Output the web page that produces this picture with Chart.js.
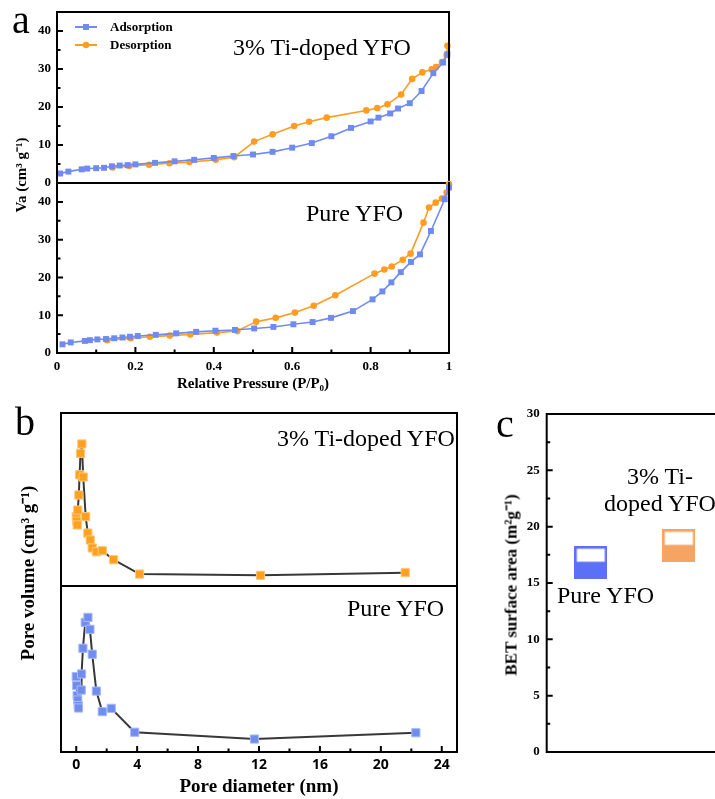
<!DOCTYPE html>
<html>
<head>
<meta charset="utf-8">
<title>YFO BET</title>
<script src="https://cdn.jsdelivr.net/npm/chart.js@4.4.1/dist/chart.umd.min.js"></script>
<style>
  body { margin: 0; background: #fff; }
  #page { position: relative; width: 715px; height: 799px; overflow: hidden; }
  .box { position: absolute; }
  .txt { position: absolute; font-family: 'Liberation Serif', 'Times New Roman', serif; color: #000; white-space: nowrap; line-height: 1; }
  .rot { font-weight: bold; transform: translate(-50%, -50%) rotate(-90deg); }
</style>
</head>
<body>
<div id="page">
  <div class="box" style="left:0;top:0;width:460px;height:195px"><canvas id="chartA1"></canvas></div>
  <div class="box" style="left:0;top:180px;width:460px;height:215px"><canvas id="chartA2"></canvas></div>
  <div class="box" style="left:0;top:400px;width:470px;height:190px"><canvas id="chartB1"></canvas></div>
  <div class="box" style="left:0;top:583px;width:470px;height:217px"><canvas id="chartB2"></canvas></div>
  <div class="box" style="left:480px;top:400px;width:235px;height:400px"><canvas id="chartC"></canvas></div>

  <div class="txt" style="left:12px;top:0px;font-size:40px">a</div>
  <div class="txt" style="left:15px;top:402px;font-size:40px">b</div>
  <div class="txt" style="left:496px;top:404px;font-size:40px">c</div>

  <div class="txt" style="left:233px;top:35px;font-size:24px">3% Ti-doped YFO</div>
  <div class="txt" style="left:306px;top:201px;font-size:24px">Pure YFO</div>
  <div class="txt" style="left:277px;top:426px;font-size:24px">3% Ti-doped YFO</div>
  <div class="txt" style="left:347px;top:596px;font-size:24px">Pure YFO</div>
  <div class="txt" style="left:660px;top:463px;font-size:24px;transform:translateX(-50%);text-align:center;line-height:27px">3% Ti-<br>doped YFO</div>
  <div class="txt" style="left:557px;top:583px;font-size:24px">Pure YFO</div>

  <div class="txt rot" style="left:21px;top:175px;font-size:15px">Va (cm³ g⁻¹)</div>
  <div class="txt rot" style="left:27px;top:573px;font-size:19px">Pore volume (cm³ g⁻¹)</div>
  <div class="txt rot" style="left:511px;top:585px;font-size:17px">BET surface area (m²g⁻¹)</div>
</div>

<script>
// ---- panel a: N2 isotherms (P/P0 vs volume) ----
const dopedAdsP = [0.008, 0.029, 0.063, 0.077, 0.10, 0.12, 0.14, 0.16, 0.18, 0.20, 0.25, 0.30, 0.35, 0.40, 0.45, 0.50, 0.55, 0.60, 0.65, 0.70, 0.75, 0.80, 0.82, 0.85, 0.87, 0.90, 0.93, 0.96, 0.985, 0.996];
const dopedAdsV = [2.5, 3.0, 3.6, 3.8, 3.9, 4.0, 4.4, 4.6, 4.7, 4.9, 5.3, 5.7, 6.1, 6.6, 7.1, 7.5, 8.2, 9.3, 10.5, 12.3, 14.5, 16.2, 17.2, 18.3, 19.6, 21.0, 24.2, 28.9, 31.7, 33.9];
const dopedDesP = [0.142, 0.184, 0.235, 0.287, 0.338, 0.405, 0.452, 0.503, 0.55, 0.605, 0.643, 0.688, 0.789, 0.817, 0.843, 0.878, 0.906, 0.932, 0.956, 0.967, 0.982, 0.994, 0.996];
const dopedDesV = [4.1, 4.5, 4.8, 5.2, 5.5, 6.1, 6.8, 10.9, 12.8, 15.0, 16.1, 17.2, 19.1, 19.7, 20.7, 23.3, 27.4, 29.1, 29.9, 30.5, 31.8, 33.7, 36.1];

const pureAdsP = [0.014, 0.035, 0.071, 0.084, 0.103, 0.125, 0.146, 0.167, 0.186, 0.206, 0.252, 0.304, 0.355, 0.404, 0.454, 0.503, 0.552, 0.603, 0.652, 0.699, 0.755, 0.805, 0.83, 0.853, 0.877, 0.903, 0.926, 0.954, 0.989, 1.0];
const pureAdsV = [2.3, 2.8, 3.2, 3.4, 3.6, 3.7, 3.9, 4.1, 4.3, 4.5, 4.8, 5.2, 5.6, 5.9, 6.1, 6.5, 6.9, 7.6, 8.2, 9.3, 11.1, 14.2, 16.3, 18.7, 21.4, 24.1, 26.1, 32.3, 40.7, 43.8];
const pureDesP = [0.128, 0.188, 0.237, 0.288, 0.34, 0.408, 0.46, 0.508, 0.558, 0.607, 0.655, 0.71, 0.81, 0.835, 0.854, 0.882, 0.902, 0.935, 0.949, 0.966, 0.982, 0.994, 1.0];
const pureDesV = [3.4, 3.9, 4.3, 4.6, 4.9, 5.4, 5.8, 8.3, 9.3, 10.7, 12.5, 15.3, 21.0, 22.1, 22.9, 24.7, 26.3, 34.5, 38.5, 39.8, 40.9, 42.5, 44.7];

// ---- panel b: pore size distribution (arbitrary units) ----
const dopedPoreD = [0.0, 0.03, 0.07, 0.10, 0.17, 0.22, 0.28, 0.37, 0.46, 0.62, 0.76, 0.92, 1.05, 1.32, 1.71, 2.45, 4.16, 12.1, 21.6];
const dopedPoreV = [40.1, 37.5, 35.3, 43.9, 52.6, 64.3, 76.7, 82.1, 63.0, 40.1, 30.6, 26.6, 22.0, 19.8, 20.4, 15.2, 6.9, 6.2, 7.7];
const purePoreD = [0.0, 0.03, 0.06, 0.10, 0.13, 0.15, 0.33, 0.35, 0.44, 0.59, 0.77, 0.90, 1.05, 1.32, 1.71, 2.3, 3.84, 11.7, 22.3];
const purePoreV = [45.4, 40.0, 34.0, 31.3, 28.0, 26.5, 37.3, 47.0, 62.5, 78.1, 81.1, 73.9, 58.9, 36.7, 24.3, 26.3, 11.9, 7.8, 11.6];

// ---- panel c: BET surface area ----
const betSamples = ['Pure YFO', '3% Ti-doped YFO'];
const betValues = [16.8, 18.3];

// tick labels
const pressureTicks = [0, 0.2, 0.4, 0.6, 0.8, 1];
const vaTicks = [0, 10, 20, 30, 40];
const diameterTicks = [0, 4, 8, 12, 16, 20, 24];
const betTicks = [0, 5, 10, 15, 20, 25, 30];

const BLUE = '#6f8bf1';
const ORANGE = '#ff9d22';
const SERIF = "'Liberation Serif', 'Times New Roman', serif";

Chart.defaults.font.family = SERIF;
Chart.defaults.color = '#000';

const toXY = (xs, ys) => xs.map((x, i) => ({ x: x, y: ys[i] }));
const setTicks = list => scale => { scale.ticks = list.map(v => ({ value: v })); };
const fixWidth = w => s => { s.width = w; s.paddingTop = 0; s.paddingBottom = 0; };
const fixHeight = h => s => { s.height = h; s.paddingLeft = 0; s.paddingRight = 0; };

// box around the plot + inward major/minor ticks
const framePlugin = {
  id: 'frame',
  afterDraw(chart, args, opts) {
    const { ctx, chartArea: a } = chart;
    const sides = opts.sides || 'tlbr';
    ctx.save();
    ctx.strokeStyle = '#000';
    ctx.lineWidth = 2;
    ctx.lineCap = 'square';
    ctx.beginPath();
    if (sides.includes('t')) { ctx.moveTo(a.left, a.top); ctx.lineTo(a.right, a.top); }
    if (sides.includes('b')) { ctx.moveTo(a.left, a.bottom); ctx.lineTo(a.right, a.bottom); }
    if (sides.includes('l')) { ctx.moveTo(a.left, a.top); ctx.lineTo(a.left, a.bottom); }
    if (sides.includes('r')) { ctx.moveTo(a.right, a.top); ctx.lineTo(a.right, a.bottom); }
    ctx.stroke();

    ctx.lineCap = 'butt';
    ctx.beginPath();
    Object.values(chart.scales).forEach(sc => {
      if (!sc.options.display || !sc.ticks.length) return;
      const vals = sc.ticks.map(t => t.value);
      const minor = [];
      for (let i = 1; i < vals.length; i++) minor.push((vals[i - 1] + vals[i]) / 2);
      const last = vals[vals.length - 1] + (vals[1] - vals[0]) / 2;
      if (last < sc.max) minor.push(last);
      const mark = (v, len) => {
        const p = sc.getPixelForValue(v);
        if (sc.isHorizontal()) { ctx.moveTo(p, a.bottom); ctx.lineTo(p, a.bottom - len); }
        else { ctx.moveTo(a.left, p); ctx.lineTo(a.left + len, p); }
      };
      vals.forEach(v => mark(v, 6));
      minor.forEach(v => mark(v, 3.5));
    });
    ctx.stroke();
    ctx.restore();
  }
};

// small legend in the top-left of panel a
const isoLegend = {
  id: 'isoLegend',
  afterDraw(chart) {
    const { ctx } = chart;
    ctx.save();
    chart.data.datasets.forEach((ds, i) => {
      const y = 27 + i * 18;
      ctx.strokeStyle = ds.borderColor;
      ctx.lineWidth = 2;
      ctx.beginPath(); ctx.moveTo(75, y); ctx.lineTo(97, y); ctx.stroke();
      ctx.fillStyle = ds.borderColor;
      ctx.beginPath();
      if (ds.pointStyle === 'rect') ctx.rect(83, y - 3, 6, 6);
      else ctx.arc(86, y, 3.2, 0, Math.PI * 2);
      ctx.fill();
      ctx.fillStyle = '#000';
      ctx.font = 'bold 13px ' + SERIF;
      ctx.textBaseline = 'middle';
      ctx.fillText(ds.label, 110, y + 1);
    });
    ctx.restore();
  }
};

function isoSets(adsP, adsV, desP, desV) {
  return [{
    label: 'Adsorption',
    data: toXY(adsP, adsV),
    showLine: true,
    borderColor: BLUE,
    backgroundColor: BLUE,
    borderWidth: 1.6,
    pointStyle: 'rect',
    pointRadius: 4.2,
    pointBorderWidth: 0,
    clip: false
  }, {
    label: 'Desorption',
    data: toXY(desP, desV),
    showLine: true,
    borderColor: ORANGE,
    backgroundColor: ORANGE,
    borderWidth: 1.6,
    pointStyle: 'circle',
    pointRadius: 3.3,
    pointBorderWidth: 0,
    clip: false
  }];
}

const yTickFont = { weight: 'bold', size: 13, family: SERIF };
const vaAxis = {
  min: 0, max: 45,
  afterBuildTicks: setTicks(vaTicks),
  afterFit: fixWidth(57),
  grid: { display: false, drawTicks: false },
  border: { display: false },
  ticks: { padding: 6, font: yTickFont, color: '#000' }
};

const common = {
  animation: false,
  responsive: true,
  maintainAspectRatio: false
};

// a, top: doped
new Chart(document.getElementById('chartA1'), {
  type: 'scatter',
  data: { datasets: isoSets(dopedAdsP, dopedAdsV, dopedDesP, dopedDesV) },
  options: Object.assign({}, common, {
    layout: { autoPadding: false, padding: { top: 12, right: 11, bottom: 12, left: 0 } },
    plugins: { legend: { display: false }, tooltip: { enabled: false }, frame: { sides: 'tlbr' } },
    scales: {
      x: { type: 'linear', min: 0, max: 1, display: false },
      y: vaAxis
    }
  }),
  plugins: [framePlugin, isoLegend]
});

// a, bottom: pure
new Chart(document.getElementById('chartA2'), {
  type: 'scatter',
  data: { datasets: isoSets(pureAdsP, pureAdsV, pureDesP, pureDesV) },
  options: Object.assign({}, common, {
    layout: { autoPadding: false, padding: { top: 3, right: 11, bottom: 2, left: 0 } },
    plugins: { legend: { display: false }, tooltip: { enabled: false }, frame: { sides: 'lbr' } },
    scales: {
      x: {
        type: 'linear', min: 0, max: 1,
        afterBuildTicks: setTicks(pressureTicks),
        afterFit: fixHeight(40),
        grid: { display: false, drawTicks: false },
        border: { display: false },
        ticks: { padding: 6, font: yTickFont, color: '#000', callback: v => String(v) },
        title: { display: true, text: 'Relative Pressure (P/P₀)', font: { weight: 'bold', size: 15, family: SERIF }, padding: { top: 0, bottom: 0 } }
      },
      y: vaAxis
    }
  }),
  plugins: [framePlugin]
});

function poreSet(xs, ys, fill, edge) {
  return [{
    data: toXY(xs, ys),
    showLine: true,
    borderColor: '#383838',
    borderWidth: 2,
    pointStyle: 'rect',
    pointRadius: 5.8,
    pointBackgroundColor: fill,
    pointBorderColor: edge,
    pointBorderWidth: 1,
    clip: false
  }];
}

// b, top: doped
new Chart(document.getElementById('chartB1'), {
  type: 'scatter',
  data: { datasets: poreSet(dopedPoreD, dopedPoreV, '#ffa020', '#ffc878') },
  options: Object.assign({}, common, {
    layout: { autoPadding: false, padding: { top: 13, right: 13, bottom: 4, left: 61 } },
    plugins: { legend: { display: false }, tooltip: { enabled: false }, frame: { sides: 'tlbr' } },
    scales: {
      x: { type: 'linear', min: -1, max: 25, display: false },
      y: { min: 0, max: 100, display: false }
    }
  }),
  plugins: [framePlugin]
});

// b, bottom: pure
new Chart(document.getElementById('chartB2'), {
  type: 'scatter',
  data: { datasets: poreSet(purePoreD, purePoreV, '#6f8cf0', '#a9baf7') },
  options: Object.assign({}, common, {
    layout: { autoPadding: false, padding: { top: 3, right: 13, bottom: 2, left: 61 } },
    plugins: { legend: { display: false }, tooltip: { enabled: false }, frame: { sides: 'lbr' } },
    scales: {
      x: {
        type: 'linear', min: -1, max: 25,
        afterBuildTicks: setTicks(diameterTicks),
        afterFit: fixHeight(46),
        grid: { display: false, drawTicks: false },
        border: { display: false },
        ticks: { padding: 5, font: { weight: 'bold', size: 14, family: "'Open Sans', sans-serif" }, color: '#000' },
        title: { display: true, text: 'Pore diameter (nm)', font: { weight: 'bold', size: 19, family: SERIF }, padding: { top: 0, bottom: 0 } }
      },
      y: { min: 0, max: 100, display: false }
    }
  }),
  plugins: [framePlugin]
});

// c: half-filled square markers
function halfSquare(fill) {
  const c = document.createElement('canvas');
  c.width = 33; c.height = 33;
  const g = c.getContext('2d');
  g.fillStyle = fill;
  g.fillRect(0, 0, 33, 33);
  g.fillStyle = '#fff';
  g.fillRect(2.5, 2.5, 28, 13);
  return c;
}
const betMarkers = [halfSquare('#5b6ff7'), halfSquare('#f5a462')];

new Chart(document.getElementById('chartC'), {
  type: 'scatter',
  data: {
    datasets: [{
      label: 'BET surface area',
      data: betValues.map((v, i) => ({ x: i + 1, y: v, name: betSamples[i] })),
      pointStyle: betMarkers,
      pointRadius: 16,
      clip: false
    }]
  },
  options: Object.assign({}, common, {
    layout: { autoPadding: false, padding: { top: 14, right: 0, bottom: 48, left: 0 } },
    plugins: { legend: { display: false }, tooltip: { enabled: false }, frame: { sides: 'tlb' } },
    scales: {
      x: { type: 'linear', min: 0.5, max: 2.41, display: false },
      y: {
        min: 0, max: 30,
        afterBuildTicks: setTicks(betTicks),
        afterFit: fixWidth(66.7),
        grid: { display: false, drawTicks: false },
        border: { display: false },
        ticks: { padding: 7, font: yTickFont, color: '#000' }
      }
    }
  }),
  plugins: [framePlugin]
});
</script>
</body>
</html>
